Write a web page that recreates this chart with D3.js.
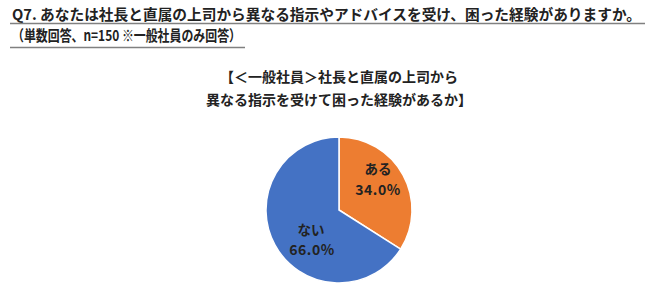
<!DOCTYPE html>
<html><head><meta charset="utf-8">
<script src="https://cdn.jsdelivr.net/npm/d3@7"></script>
<style>body{margin:0;background:#fff;}svg{display:block;}text{font-family:"Noto Sans CJK JP","Noto Sans",sans-serif;font-weight:bold;fill:#222;}</style>
</head><body>
<script>
const categories = ["ある", "ない"];
const values = [34.0, 66.0];
const colors = ["#ED7D31", "#4472C4"];
const titleLines = ["Q7. あなたは社長と直属の上司から異なる指示やアドバイスを受け、困った経験がありますか。", "（単数回答、n=150 ※一般社員のみ回答）"];
const chartTitle = ["【＜一般社員＞社長と直属の上司から", "異なる指示を受けて困った経験があるか】"];

const W = 649, H = 297;
const svg = d3.select("body").append("svg").attr("width", W).attr("height", H);

// header
svg.append("text").attr("x", 12).attr("y", 20).attr("font-size", 14.5)
  .attr("textLength", 629).attr("lengthAdjust", "spacingAndGlyphs").text(titleLines[0]);
svg.append("line").attr("x1", 10).attr("x2", 645).attr("y1", 23.5).attr("y2", 23.5).attr("stroke", "#808080").attr("stroke-width", 1.5);
svg.append("text").attr("x", 12).attr("y", 41).attr("font-size", 15)
  .attr("textLength", 229).attr("lengthAdjust", "spacingAndGlyphs").text(titleLines[1]);
svg.append("line").attr("x1", 10).attr("x2", 245).attr("y1", 47.5).attr("y2", 47.5).attr("stroke", "#808080").attr("stroke-width", 1.5);

// chart title
const titleY = [82, 105];
chartTitle.forEach((t, i) => {
  svg.append("text").attr("x", 339).attr("y", titleY[i]).attr("text-anchor", "middle")
    .attr("font-size", 14).text(t);
});

const cx = 339, cy = 210, r = 73;
const pie = d3.pie().sort(null).value(d => d.v);
const arcs = pie(categories.map((c, i) => ({c, v: values[i], col: colors[i]})));
const arc = d3.arc().innerRadius(0).outerRadius(r);
const g = svg.append("g").attr("transform", `translate(${cx},${cy})`);
g.selectAll("path").data(arcs).join("path").attr("d", arc)
  .attr("fill", d => d.data.col).attr("stroke", "#fff").attr("stroke-width", 1.5);

const labelPos = [[39, -36], [-28, 25]];
const pctPos = [[39, -15], [-27, 45]];
arcs.forEach((d, i) => {
  g.append("text").attr("x", labelPos[i][0]).attr("y", labelPos[i][1]).attr("text-anchor", "middle")
    .attr("font-size", 13.5).text(d.data.c);
  g.append("text").attr("x", pctPos[i][0]).attr("y", pctPos[i][1]).attr("text-anchor", "middle")
    .attr("font-size", 14).attr("letter-spacing", 0.5).text(d.data.v.toFixed(1) + "%");
});
</script>
</body></html>
